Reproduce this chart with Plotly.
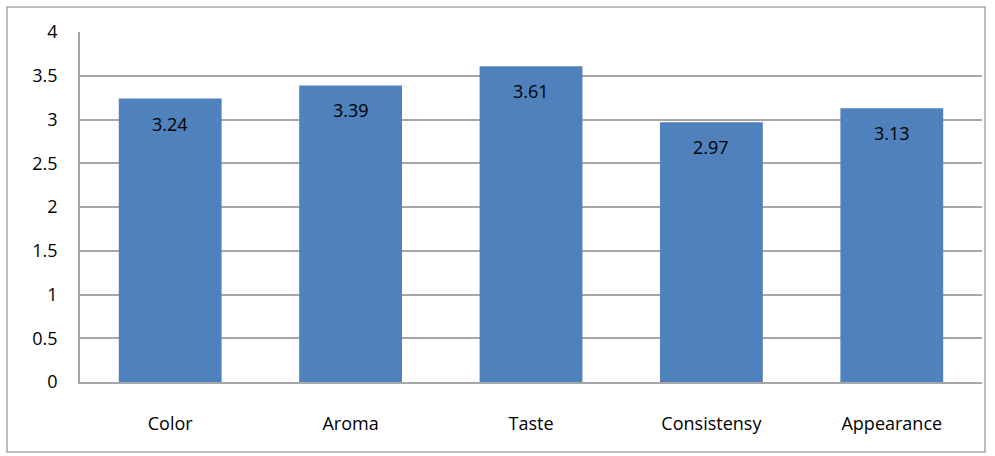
import plotly.graph_objects as go

categories = ["Color", "Aroma", "Taste", "Consistensy", "Appearance"]
values = [3.24, 3.39, 3.61, 2.97, 3.13]
value_labels = ["3.24", "3.39", "3.61", "2.97", "3.13"]
y_ticks = [0, 0.5, 1, 1.5, 2, 2.5, 3, 3.5, 4]
y_tick_labels = ["0", "0.5", "1", "1.5", "2", "2.5", "3", "3.5", "4"]

W, H = 995, 456
L, R, T, B = 80, 13, 32, 74
pw, ph = W - L - R, H - T - B

def px_to_paper_x(px):
    return (px - L) / pw

def px_to_paper_y(py):
    return (H - B - py) / ph

font_family = "Open Sans, Noto Sans, sans-serif"

fig = go.Figure(go.Bar(
    x=categories,
    y=values,
    marker=dict(color="#4F81BD", line=dict(width=0)),
))

for c, v, t in zip(categories, values, value_labels):
    fig.add_annotation(
        x=c, y=v, text=t, showarrow=False,
        yanchor="middle", yshift=-25,
        font=dict(color="#000000", size=18, family=font_family),
    )

fig.update_layout(
    width=W, height=H,
    margin=dict(l=L, r=R, t=T, b=B),
    paper_bgcolor="white",
    plot_bgcolor="white",
    bargap=0.43,
    showlegend=False,
    font=dict(family=font_family, size=18, color="#000000"),
    shapes=[dict(
        type="rect", xref="paper", yref="paper",
        x0=px_to_paper_x(7), x1=px_to_paper_x(985),
        y0=px_to_paper_y(452), y1=px_to_paper_y(7),
        line=dict(color="#A6A6A6", width=1.5),
        fillcolor="rgba(0,0,0,0)", layer="below",
    )],
)

fig.update_xaxes(
    showline=True, linecolor="#A6A6A6", linewidth=1.5,
    showgrid=False, ticks="",
    ticklabelstandoff=25,
    tickfont=dict(size=18, family=font_family),
)
fig.update_yaxes(
    range=[0, 4], tickvals=y_ticks, ticktext=y_tick_labels,
    showline=True, linecolor="#A6A6A6", linewidth=1.5,
    showgrid=True, gridcolor="#A6A6A6", gridwidth=1.5,
    zeroline=False, ticks="",
    ticklabelstandoff=17,
    tickfont=dict(size=18, family=font_family),
)

fig.write_html("out.html")
